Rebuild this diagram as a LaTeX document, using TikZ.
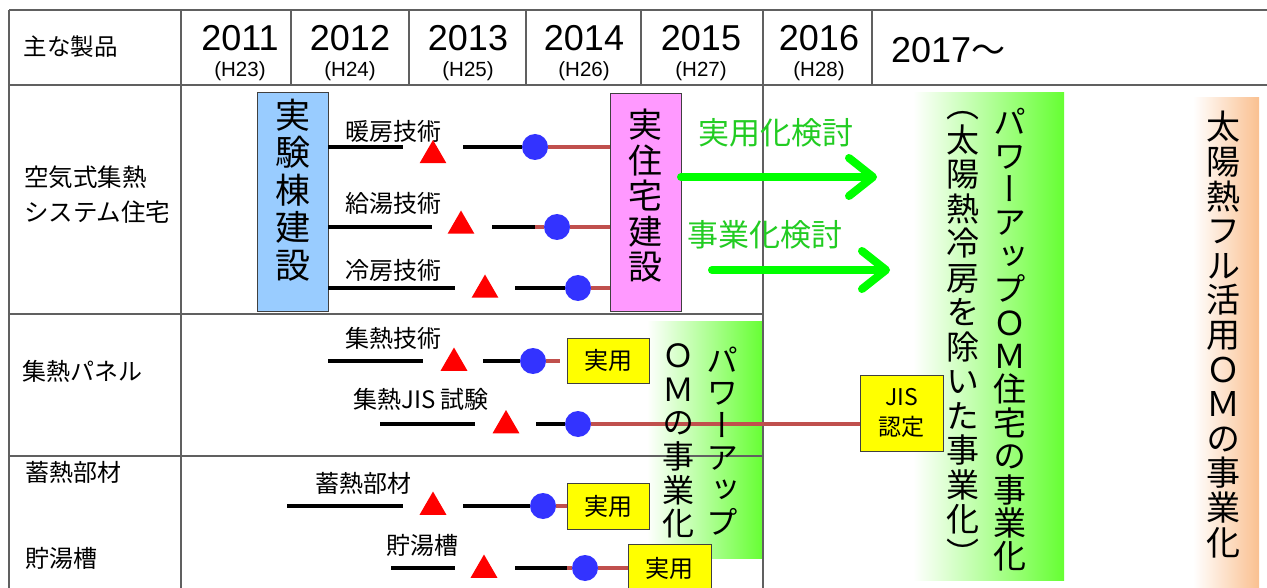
\documentclass[tikz,border=0pt]{standalone}
\usepackage{fontspec}
\setmainfont{Noto Sans CJK JP}
\newfontfamily\vjp[RawFeature=+vert]{Noto Sans CJK JP}
\newfontfamily\yrf{Liberation Sans}
\usetikzlibrary{arrows.meta,shapes.geometric}
\definecolor{tblc}{HTML}{606060}
\definecolor{redc}{HTML}{C0504D}
\definecolor{dotc}{HTML}{3333FF}
\definecolor{trired}{HTML}{FF0000}
\definecolor{bluefill}{HTML}{99CCFF}
\definecolor{pinkfill}{HTML}{FF99FF}
\definecolor{yfill}{HTML}{FFFF00}
\definecolor{arrg}{HTML}{00FF00}
\definecolor{txtg}{HTML}{22CC22}
\definecolor{pgreen}{HTML}{66FF33}
\definecolor{porange}{HTML}{FAC090}
\newcommand{\vtx}[2]{\vjp\fontsize{#1}{#2}\selectfont}
\tikzset{
  tbl/.style={draw=tblc, line width=1.2pt},
  blk/.style={draw=black, line width=3.6pt},
  redl/.style={draw=redc, line width=3.4pt},
  dot/.style={circle, fill=dotc, minimum size=26pt},
  tri/.style={regular polygon, regular polygon sides=3, fill=trired, minimum size=31pt},
  ybox/.style={draw=black!75, fill=yfill, line width=0.8pt},
  garrow/.style={draw=arrg, line width=8pt, line cap=round, -{Straight Barb[length=24pt,width=38pt,round]}},
  lbl/.style={font=\fontsize{24}{24}\selectfont},
  yrs/.style={font=\yrf\fontsize{36}{36}\selectfont},
  hsei/.style={font=\yrf\fontsize{20.5}{20.5}\selectfont},
  gtxt/.style={text=txtg, font=\fontsize{31}{31}\selectfont},
}
\begin{document}
\begin{tikzpicture}[x=1pt,y=-1pt, every node/.style={inner sep=0pt, outer sep=0pt}]
\useasboundingbox (0,0) rectangle (1267,588);
\clip (0,0) rectangle (1267,588);
\fill[white] (0,0) rectangle (1267,588);

% gradient boxes
\node[minimum width=116pt, minimum height=237pt, left color=white, right color=pgreen] (gb1) at (705,439.5) {};
\node[minimum width=151pt, minimum height=487pt, left color=white, right color=pgreen] (gb2) at (988.5,336.5) {};
\node[minimum width=66pt, minimum height=492pt, left color=white, right color=porange] (ob) at (1226,344) {};

% table lines
\draw[tbl] (9,10) -- (1267,10);
\draw[tbl] (9,85) -- (1267,85);
\draw[tbl] (9,10) -- (9,588);
\draw[tbl] (181,10) -- (181,588);
\draw[tbl] (763,10) -- (763,588);
\draw[tbl] (9,314) -- (763,314);
\draw[tbl] (9,456) -- (763,456);
\foreach \xx in {291,409,526,641,872} { \draw[tbl] (\xx,10) -- (\xx,85); }

% header
\node[font=\fontsize{23.5}{23.5}\selectfont] (hd) at (70.5,47) {主な製品};
\node[yrs] (y11) at (240,38.5) {2011};
\node[yrs] (y12) at (350,38.5) {2012};
\node[yrs] (y13) at (468,38.5) {2013};
\node[yrs] (y14) at (584,38.5) {2014};
\node[yrs] (y15) at (701,38.5) {2015};
\node[yrs] (y16) at (819,38.5) {2016};
\node[hsei] (h23) at (240,71) {(H23)};
\node[hsei] (h24) at (350,71) {(H24)};
\node[hsei] (h25) at (468,71) {(H25)};
\node[hsei] (h26) at (584,71) {(H26)};
\node[hsei] (h27) at (701,71) {(H27)};
\node[hsei] (h28) at (819,71) {(H28)};
\node[anchor=west] (y17) at (891,50) {{\yrf\fontsize{36}{36}\selectfont 2017}{\fontsize{34}{34}\selectfont 〜}};

% left column
\node[lbl, anchor=west, align=left, font=\fontsize{24.5}{35}\selectfont] (r1) at (24,194.5) {空気式集熱\\システム住宅};
\node[lbl, anchor=west] (r2) at (23,371) {集熱パネル};
\node[lbl, anchor=west] (r3a) at (25,472) {蓄熱部材};
\node[lbl, anchor=west] (r3b) at (25,558) {貯湯槽};

% boxes row 1
\node[draw=black!75, line width=0.9pt, fill=bluefill, minimum width=71pt, minimum height=219pt] (blue) at (292.5,201.5) {};
\node[align=center, font=\vtx{35}{37.5}] (bluet) at (292.5,190) {実\\験\\棟\\建\\設};
\node[draw=black!75, line width=0.9pt, fill=pinkfill, minimum width=71pt, minimum height=218pt] (pink) at (645.5,202) {};
\node[align=center, font=\vtx{34}{35.5}] (pinkt) at (645.5,196) {実\\住\\宅\\建\\設};

% tech labels
\node[lbl] (l1) at (393,131) {暖房技術};
\node[lbl] (l2) at (393,203) {給湯技術};
\node[lbl] (l3) at (393,270) {冷房技術};
\node[lbl] (l4) at (393,338) {集熱技術};
\node[lbl] (l5) at (421,399) {集熱JIS\,試験};
\node[lbl] (l6) at (363,483) {蓄熱部材};
\node[lbl] (l7) at (422,545) {貯湯槽};

% yellow boxes
\node[ybox, minimum width=82pt, minimum height=45pt, font=\fontsize{24}{24}\selectfont] (yb1) at (608,360.5) {実用};
\node[ybox, minimum width=82pt, minimum height=46pt, font=\fontsize{24}{24}\selectfont] (yb2) at (608,506) {実用};
\node[ybox, minimum width=83pt, minimum height=48pt, font=\fontsize{24}{24}\selectfont] (yb3) at (669.5,568) {実用};
\node[ybox, minimum width=83pt, minimum height=76pt, align=center, font=\fontsize{23}{30}\selectfont] (jis) at (901.5,413) {JIS\\認定};

% triangles
\node[tri] (t1) at (433,155.5) {};
\node[tri] (t2) at (461,226) {};
\node[tri] (t3) at (485,290) {};
\node[tri] (t4) at (454,363) {};
\node[tri] (t5) at (506,425.5) {};
\node[tri] (t6) at (433,507) {};
\node[tri] (t7) at (484,570) {};

% circles
\node[dot] (c1) at (535,147) {};
\node[dot] (c2) at (557,227) {};
\node[dot] (c3) at (578,288) {};
\node[dot] (c4) at (533,361) {};
\node[dot] (c5) at (578,424) {};
\node[dot] (c6) at (543,506) {};
\node[dot] (c7) at (585,568) {};

% coordinates
\coordinate (g1) at (403,147); \coordinate (h1) at (463,147);
\coordinate (g2) at (432,227); \coordinate (h2) at (492,227); \coordinate (k2) at (535,227);
\coordinate (g3) at (455,288); \coordinate (h3) at (515,288);
\coordinate (s4) at (328,361); \coordinate (g4) at (423,361); \coordinate (h4) at (483,361); \coordinate (e4) at (560,361);
\coordinate (s5) at (380,424); \coordinate (g5) at (475,424); \coordinate (h5) at (536,424);
\coordinate (s6) at (287,506); \coordinate (g6) at (403,506); \coordinate (h6) at (463,506);
\coordinate (s7) at (391,568); \coordinate (g7) at (455,568); \coordinate (h7) at (515,568); \coordinate (k7) at (567,568);

% row 1 lines
\draw[blk] (blue.east |- g1) -- (g1);
\draw[blk] (h1) -- (c1);
\draw[redl] (c1) -- (pink.west |- c1);
\draw[blk] (blue.east |- g2) -- (g2);
\draw[blk] (h2) -- (k2);
\draw[redl] (k2) -- (c2);
\draw[redl] (c2) -- (pink.west |- c2);
\draw[blk] (blue.east |- g3) -- (g3);
\draw[blk] (h3) -- (c3);
\draw[redl] (c3) -- (pink.west |- c3);
% row 2 lines
\draw[blk] (s4) -- (g4);
\draw[blk] (h4) -- (c4);
\draw[redl] (c4) -- (e4);
\draw[blk] (s5) -- (g5);
\draw[blk] (h5) -- (c5);
\draw[redl] (c5) -- (jis.west |- c5);
% row 3 lines
\draw[blk] (s6) -- (g6);
\draw[blk] (h6) -- (c6);
\draw[redl] (c6) -- (yb2.west |- c6);
\draw[blk] (s7) -- (g7);
\draw[blk] (h7) -- (k7);
\draw[redl] (k7) -- (c7);
\draw[redl] (c7) -- (yb3.west |- c7);

% green arrows
\coordinate (a1e) at (877,177);
\coordinate (a2s) at (712,270);
\coordinate (a2e) at (890,270);
\draw[garrow] (pink.east |- a1e) -- (a1e);
\draw[garrow] (a2s) -- (a2e);
\node[gtxt] (gt1) at (776,133) {実用化検討};
\node[gtxt] (gt2) at (765,235) {事業化検討};

% vertical texts
\node[align=center, font=\vtx{32}{32.4}] (v1a) at (722,441) {パ\\ワ\\ー\\ア\\ッ\\プ};
\node[align=center, font=\vtx{32}{33.6}] (v1b) at (678,441) {Ｏ\\Ｍ\\の\\事\\業\\化};
\node[align=center, font=\vtx{33}{33.4}] (v2a) at (1010,340) {パ\\ワ\\ー\\ア\\ッ\\プ\\Ｏ\\Ｍ\\住\\宅\\の\\事\\業\\化};
\node[align=center, font=\vtx{33}{34.5}] (v2b) at (963,339) {（\\太\\陽\\熱\\冷\\房\\を\\除\\い\\た\\事\\業\\化\\）};
\node[align=center, font=\vtx{34}{34.6}] (v3) at (1223,334.5) {太\\陽\\熱\\フ\\ル\\活\\用\\Ｏ\\Ｍ\\の\\事\\業\\化};
\end{tikzpicture}
\end{document}
